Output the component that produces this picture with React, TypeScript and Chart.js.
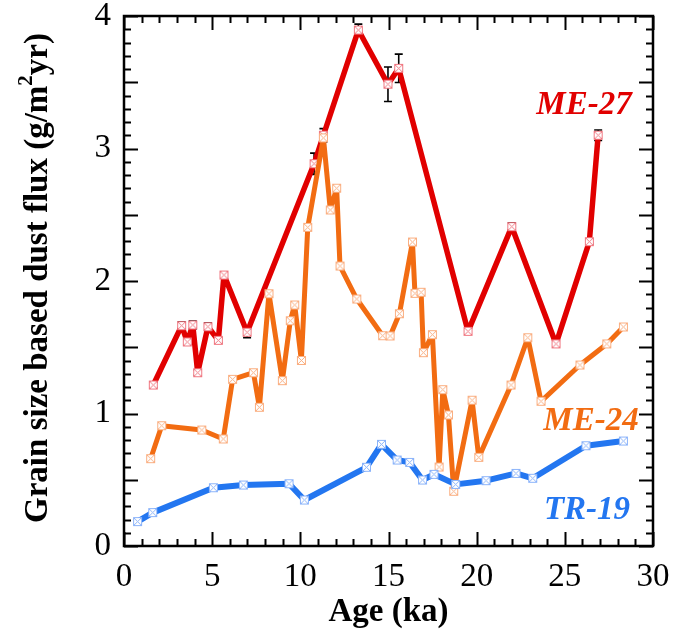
import React, { useEffect, useRef } from "react";
import { Chart, registerables } from "chart.js";
Chart.register(...registerables);

// ---- Data ----
const tr19Age = [0.77, 1.63, 5.07, 6.77, 9.36, 10.23, 13.75, 14.6, 15.49, 16.2, 16.93, 17.58, 18.81, 20.53, 22.23, 23.18, 26.2, 28.32];
const tr19Flux = [0.184, 0.252, 0.44, 0.46, 0.47, 0.347, 0.594, 0.767, 0.649, 0.631, 0.498, 0.541, 0.465, 0.493, 0.548, 0.511, 0.757, 0.792];

const me24Age = [1.51, 2.14, 4.41, 5.63, 6.16, 7.34, 7.68, 8.22, 8.98, 9.43, 9.68, 10.06, 10.42, 11.31, 11.7, 12.06, 12.25, 13.2, 14.67, 15.09, 15.62, 16.36, 16.5, 16.85, 16.98, 17.49, 17.87, 18.08, 18.4, 18.7, 19.74, 20.12, 21.95, 22.9, 23.65, 25.86, 27.38, 28.32];
const me24Flux = [0.659, 0.908, 0.875, 0.808, 1.258, 1.308, 1.047, 1.904, 1.248, 1.7, 1.819, 1.4, 2.405, 3.08, 2.536, 2.7, 2.113, 1.864, 1.587, 1.585, 1.753, 2.294, 1.907, 1.915, 1.459, 1.595, 0.596, 1.18, 0.989, 0.413, 1.1, 0.669, 1.215, 1.572, 1.092, 1.366, 1.525, 1.653];

const me27Age = [1.66, 3.27, 3.59, 3.9, 4.18, 4.76, 5.35, 5.67, 6.98, 10.78, 11.31, 13.29, 14.97, 15.58, 19.51, 21.99, 24.5, 26.39, 26.89];
const me27Flux = [1.215, 1.663, 1.54, 1.668, 1.308, 1.655, 1.552, 2.045, 1.613, 2.885, 3.1, 3.894, 3.485, 3.605, 1.62, 2.41, 1.525, 2.297, 3.1];
const me27Err = [0.02, 0.03, 0.02, 0.03, 0.02, 0.03, 0.02, 0.02, 0.04, 0.08, 0.05, 0.045, 0.13, 0.107, 0.02, 0.03, 0.02, 0.02, 0.04];

const xTickLabels = [0, 5, 10, 15, 20, 25, 30];
const yTickLabels = [0, 1, 2, 3, 4];

const RED = "rgb(225,0,0)";
const ORANGE = "rgb(242,108,18)";
const BLUE = "rgb(35,118,240)";
const SERIF = "Liberation Serif, DejaVu Serif, serif";

function makeMarker(stroke: string) {
  const c = document.createElement("canvas");
  c.width = 11;
  c.height = 11;
  const g = c.getContext("2d")!;
  g.fillStyle = "#ffffff";
  g.fillRect(1, 1, 9, 9);
  g.strokeStyle = stroke;
  g.lineWidth = 1;
  g.strokeRect(1.5, 1.5, 8, 8);
  g.beginPath();
  g.moveTo(2, 2);
  g.lineTo(9, 9);
  g.moveTo(9, 2);
  g.lineTo(2, 9);
  g.stroke();
  return c;
}

const decorPlugin = {
  id: "decor",
  beforeDatasetsDraw(chart: any) {
    const ctx = chart.ctx;
    const xs = chart.scales.x;
    const ys = chart.scales.y;
    ctx.save();
    ctx.strokeStyle = "#000";
    ctx.lineWidth = 1.6;
    for (let i = 0; i < me27Age.length; i++) {
      const px = xs.getPixelForValue(me27Age[i]);
      const top = ys.getPixelForValue(me27Flux[i] + me27Err[i]);
      const bot = ys.getPixelForValue(me27Flux[i] - me27Err[i]);
      ctx.beginPath();
      ctx.moveTo(px, top);
      ctx.lineTo(px, bot);
      ctx.moveTo(px - 4, top);
      ctx.lineTo(px + 4, top);
      ctx.moveTo(px - 4, bot);
      ctx.lineTo(px + 4, bot);
      ctx.stroke();
    }
    ctx.restore();
  },
  afterDraw(chart: any) {
    const ctx = chart.ctx;
    const a = chart.chartArea;
    const xs = chart.scales.x;
    const ys = chart.scales.y;
    ctx.save();
    ctx.strokeStyle = "#000";
    ctx.lineWidth = 2;
    for (let v = 0; v <= 30; v++) {
      const px = Math.round(xs.getPixelForValue(v)) + 0.5;
      const len = v % 5 === 0 ? 14 : 7;
      ctx.beginPath();
      ctx.moveTo(px, a.bottom);
      ctx.lineTo(px, a.bottom - len);
      ctx.moveTo(px, a.top);
      ctx.lineTo(px, a.top + len);
      ctx.stroke();
    }
    for (let k = 0; k <= 40; k++) {
      const py = Math.round(ys.getPixelForValue(k / 10)) + 0.5;
      const len = k % 5 === 0 ? 14 : 7;
      ctx.beginPath();
      ctx.moveTo(a.left, py);
      ctx.lineTo(a.left + len, py);
      ctx.moveTo(a.right, py);
      ctx.lineTo(a.right - len, py);
      ctx.stroke();
    }
    ctx.lineWidth = 2.5;
    ctx.strokeRect(a.left, a.top, a.right - a.left, a.bottom - a.top);

    ctx.font = "italic bold 33px " + SERIF;
    ctx.textAlign = "center";
    ctx.textBaseline = "middle";
    ctx.fillStyle = RED;
    ctx.fillText("ME-27", 584, 105);
    ctx.fillStyle = ORANGE;
    ctx.fillText("ME-24", 591, 421);
    ctx.fillStyle = BLUE;
    ctx.fillText("TR-19", 587, 510);

    ctx.fillStyle = "#000";
    ctx.font = "bold 33px " + SERIF;
    ctx.fillText("Age (ka)", (a.left + a.right) / 2, 612);

    ctx.translate(38, 278);
    ctx.rotate(-Math.PI / 2);
    const main = "Grain size based dust flux (g/m";
    const sup = "2";
    const tail = "yr)";
    ctx.font = "bold 33px " + SERIF;
    const w1 = ctx.measureText(main).width;
    const w3 = ctx.measureText(tail).width;
    ctx.font = "bold 21px " + SERIF;
    const w2 = ctx.measureText(sup).width;
    const total = w1 + w2 + w3;
    let x0 = -total / 2;
    ctx.textAlign = "left";
    ctx.font = "bold 33px " + SERIF;
    ctx.fillText(main, x0, 0);
    x0 += w1;
    ctx.font = "bold 21px " + SERIF;
    ctx.fillText(sup, x0, -11);
    x0 += w2;
    ctx.font = "bold 33px " + SERIF;
    ctx.fillText(tail, x0, 0);
    ctx.restore();
  },
};

export default function App() {
  const ref = useRef<HTMLCanvasElement | null>(null);
  useEffect(() => {
    if (!ref.current) return;
    const mk = (xsArr: number[], ysArr: number[]) => xsArr.map((x, i) => ({ x, y: ysArr[i] }));
    const common = { pointRadius: 5.5, tension: 0, borderJoinStyle: "round" as const, borderCapStyle: "round" as const };
    const chart = new Chart(ref.current, {
      type: "line",
      data: {
        datasets: [
          { label: "TR-19", data: mk(tr19Age, tr19Flux), borderColor: BLUE, borderWidth: 6, pointStyle: makeMarker("rgb(140,180,250)") as any, ...common },
          { label: "ME-24", data: mk(me24Age, me24Flux), borderColor: ORANGE, borderWidth: 5, pointStyle: makeMarker("rgb(250,175,130)") as any, ...common },
          { label: "ME-27", data: mk(me27Age, me27Flux), borderColor: RED, borderWidth: 5.5, pointStyle: makeMarker("rgb(240,120,130)") as any, ...common },
        ],
      },
      options: {
        animation: false,
        responsive: false,
        maintainAspectRatio: false,
        layout: { padding: { left: 0, right: 20, top: 16, bottom: 0 } },
        plugins: { legend: { display: false }, tooltip: { enabled: false } },
        scales: {
          x: {
            type: "linear",
            min: 0,
            max: 30,
            grid: { display: false, drawTicks: false },
            border: { display: false },
            afterFit: (s: any) => { s.height = 94; s.paddingLeft = 0; s.paddingRight = 0; },
            afterBuildTicks: (s: any) => { s.ticks = xTickLabels.map((v) => ({ value: v })); },
            ticks: { color: "#000", font: { family: SERIF, size: 33 }, padding: 12, maxRotation: 0, autoSkip: false },
          },
          y: {
            type: "linear",
            min: 0,
            max: 4,
            grid: { display: false, drawTicks: false },
            border: { display: false },
            afterFit: (s: any) => { s.width = 124; s.paddingTop = 0; s.paddingBottom = 0; },
            afterBuildTicks: (s: any) => { s.ticks = yTickLabels.map((v) => ({ value: v })); },
            ticks: { color: "#000", font: { family: SERIF, size: 33, lineHeight: 0.8 }, padding: 13 },
          },
        },
      },
      plugins: [decorPlugin],
    });
    return () => chart.destroy();
  }, []);
  return (
    <div style={{ position: "absolute", left: 0, top: 0, width: 673, height: 640, background: "#fff" }}>
      <canvas ref={ref} width={673} height={640} style={{ width: 673, height: 640 }} />
    </div>
  );
}
